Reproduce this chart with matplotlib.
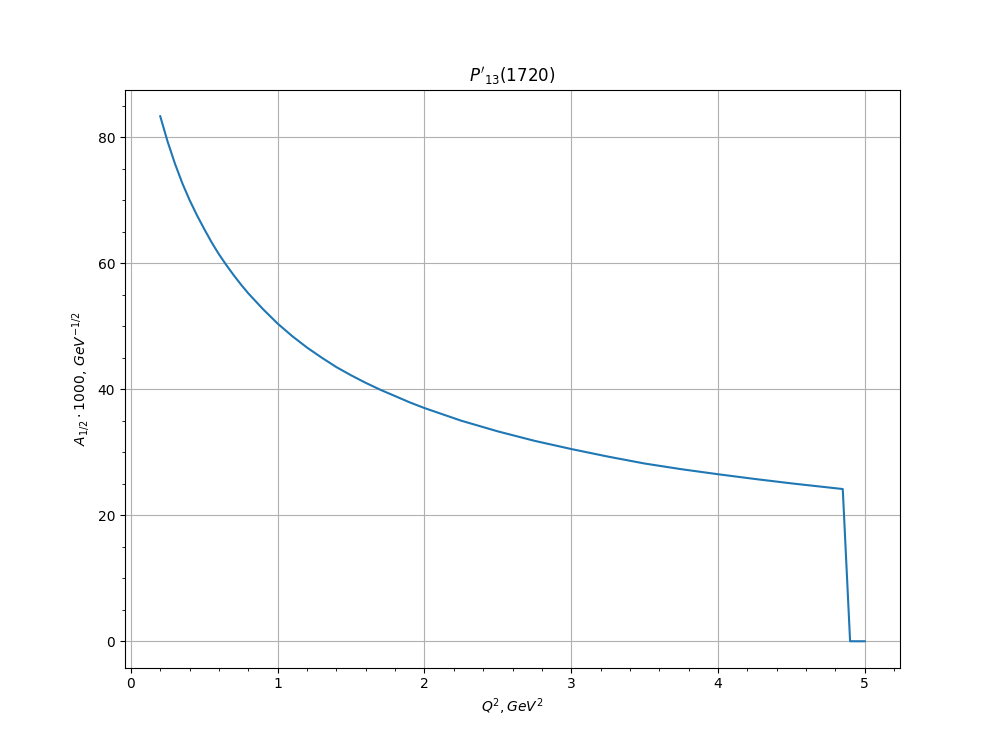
import numpy as np
import matplotlib
matplotlib.use('Agg')
import matplotlib.pyplot as plt

# Q^2 (GeV^2) and amplitude A_1/2 * 1000
q2 = [0.2, 0.25, 0.3, 0.35, 0.4, 0.45, 0.5, 0.55, 0.6, 0.65, 0.7, 0.75,
      0.8, 0.9, 1.0, 1.1, 1.2, 1.3, 1.4, 1.5, 1.6, 1.7, 1.8, 1.9,
      2.0, 2.25, 2.5, 2.75, 3.0, 3.25, 3.5, 3.75, 4.0, 4.25, 4.5,
      4.85, 4.9, 5.0]
a12 = [83.3, 79.3, 75.8, 72.7, 70.0, 67.6, 65.4, 63.3, 61.4, 59.7, 58.1, 56.6,
       55.2, 52.7, 50.4, 48.4, 46.6, 45.0, 43.5, 42.2, 41.0, 39.9, 38.9, 37.9,
       37.0, 35.0, 33.3, 31.8, 30.5, 29.3, 28.2, 27.3, 26.5, 25.75, 25.05,
       24.15, 0.0, 0.0]

plt.figure(figsize=(10, 7.5), dpi=100)
plt.plot(q2, a12)
plt.title(r"$P'_{13}$(1720)")
plt.xlabel(r'$Q^2, GeV^2$')
plt.ylabel(r'$A_{1/2}\cdot1000,\, GeV^{-1/2}$')
plt.minorticks_on()
plt.grid(which='major')
plt.savefig('out.png', dpi=100)
